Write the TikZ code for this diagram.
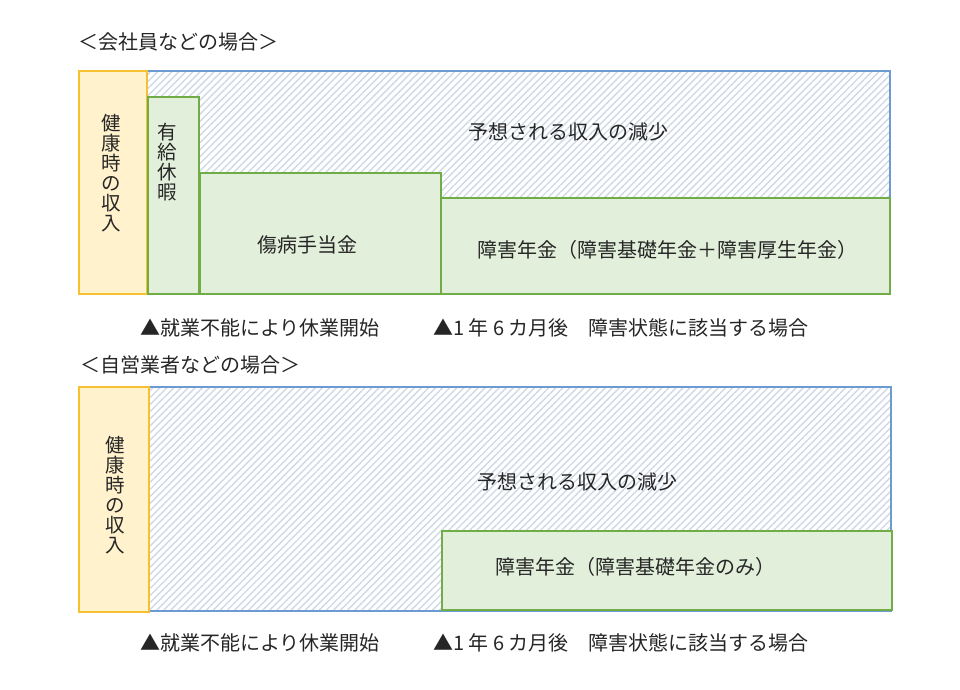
\documentclass[tikz,border=0pt]{standalone}
\usepackage{fontspec}
\setmainfont{Noto Sans CJK JP}
\usetikzlibrary{patterns.meta,positioning}
\definecolor{incline}{HTML}{F5C131}
\definecolor{incfill}{HTML}{FFF2CC}
\definecolor{payline}{HTML}{70AD47}
\definecolor{payfill}{HTML}{E2EFDA}
\definecolor{lossline}{HTML}{6C9BD2}
\definecolor{hatch}{HTML}{CFD9E6}
\definecolor{txt}{HTML}{262626}

\begin{document}
\begin{tikzpicture}[x=1pt, y=-1pt, inner sep=0pt, outer sep=0pt, text=txt,
    font=\fontsize{20}{20}\selectfont,
    box/.style={anchor=north west, draw, line width=2pt},
    income/.style={box, draw=incline, fill=incfill},
    pay/.style={box, draw=payline, fill=payfill},
    loss/.style={draw=lossline, line width=1.5pt,
                 pattern={Lines[angle=45, distance=5pt, line width=1.4pt]}, pattern color=hatch},
    vtext/.style={align=center, font=\fontsize{19.5}{20}\selectfont}]
  \useasboundingbox (0,0) rectangle (960,689);

  % company employee
  \node[anchor=west] (title1) at (78,42) {＜会社員などの場合＞};
  \draw[loss] (147,71) rectangle (890,294);
  \node[income, minimum width=68pt, minimum height=223pt] (inc1) at (79,71) {};
  \node[pay, minimum width=51pt, minimum height=197pt] (leave) at (148,97) {};
  \node[pay, minimum width=241pt, minimum height=121pt] (sick) at (200,173) {};
  \node[pay, minimum width=449pt, minimum height=96pt] (pens1) at (441,198) {};

  \node[vtext] (incl1) at (111,173) {健\\康\\時\\の\\収\\入};
  \node[vtext] (leavel) at (167,162) {有\\給\\休\\暇};
  \node (sickl) at (307,245) {傷病手当金};
  \node (loss1) at (568,132) {予想される収入の減少};
  \node (pensl1) at (667,250) {障害年金（障害基礎年金＋障害厚生年金）};

  \node[anchor=west] (start1) at (140,328) {▲就業不能により休業開始};
  \node[anchor=west] (later1) at (433,328) {▲1 年 6 カ月後　障害状態に該当する場合};

  % self-employed
  \node[anchor=west] (title2) at (80,365) {＜自営業者などの場合＞};
  \draw[loss] (149,387) rectangle (891,611);
  \node[income, minimum width=70pt, minimum height=225pt] (inc2) at (79,387) {};
  \node[pay, minimum width=450pt, minimum height=79pt] (pens2) at (442,531) {};

  \node[vtext] (incl2) at (115,495) {健\\康\\時\\の\\収\\入};
  \node (loss2) at (577,482) {予想される収入の減少};
  \node (pensl2) at (635,567) {障害年金（障害基礎年金のみ）};

  \node[anchor=west] (start2) at (140,643) {▲就業不能により休業開始};
  \node[anchor=west] (later2) at (433,643) {▲1 年 6 カ月後　障害状態に該当する場合};
\end{tikzpicture}
\end{document}
